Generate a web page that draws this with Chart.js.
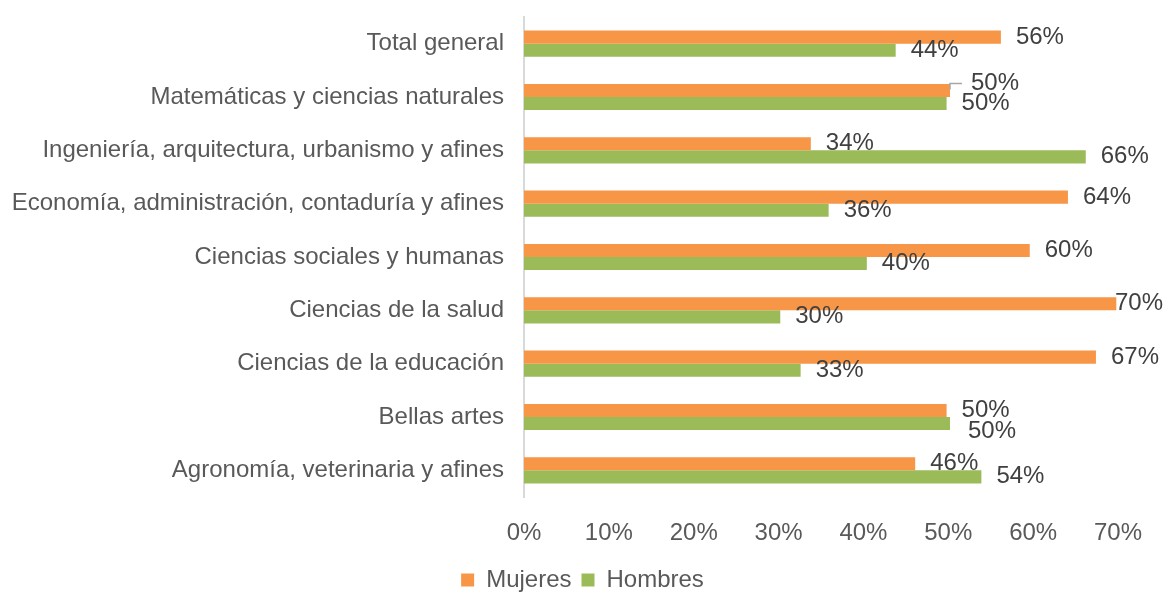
<!DOCTYPE html>
<html>
<head>
<meta charset="utf-8">
<script src="https://cdn.jsdelivr.net/npm/chart.js@4/dist/chart.umd.min.js"></script>
<style>
  html, body { margin: 0; padding: 0; background: #fff; }
  #wrap { width: 1165px; height: 592px; }
</style>
</head>
<body>
<div id="wrap"><canvas id="myBarChart"></canvas></div>
<script>
var categories = [
  "Total general",
  "Matemáticas y ciencias naturales",
  "Ingeniería, arquitectura, urbanismo y afines",
  "Economía, administración, contaduría y afines",
  "Ciencias sociales y humanas",
  "Ciencias de la salud",
  "Ciencias de la educación",
  "Bellas artes",
  "Agronomía, veterinaria y afines"
];
var mujeres = [56.2, 50.2, 33.8, 64.1, 59.6, 69.8, 67.4, 49.8, 46.1];
var hombres = [43.8, 49.8, 66.2, 35.9, 40.4, 30.2, 32.6, 50.2, 53.9];
var seriesNames = ["Mujeres", "Hombres"];
var xMax = 70;
var xStep = 10;

var FONT = "'Liberation Sans', Arial, sans-serif";
var TXT = "#595959";

// value labels next to bar ends, nudged apart when they overlap
var barLabels = {
  id: "barLabels",
  afterDatasetsDraw: function(chart) {
    var ctx = chart.ctx;
    ctx.save();
    ctx.font = "24px " + FONT;
    ctx.fillStyle = "#404040";
    ctx.textBaseline = "middle";
    ctx.textAlign = "left";
    var m0 = chart.getDatasetMeta(0), m1 = chart.getDatasetMeta(1);
    for (var i = 0; i < categories.length; i++) {
      var items = [m0.data[i], m1.data[i]].map(function(el, d) {
        var v = chart.data.datasets[d].data[i];
        var t = Math.round(v) + "%";
        var w = ctx.measureText(t).width;
        var x = Math.min(el.x + 15, chart.width - w - 2);
        return { el: el, v: v, t: t, w: w, x: x, y: el.y, lead: false };
      });
      var a = items[0], b = items[1];
      if (Math.abs(a.x - b.x) < Math.max(a.w, b.w) && Math.abs(a.y - b.y) < 20) {
        if (a.v > b.v) { a.y -= 7; a.x += 6; a.lead = true; }
        else { b.y += 8; b.x += 3; }
      }
      items.forEach(function(it) {
        if (it.lead) {
          ctx.strokeStyle = "#a6a6a6";
          ctx.lineWidth = 1.5;
          ctx.beginPath();
          ctx.moveTo(it.el.x, it.el.y - 1);
          ctx.lineTo(it.el.x, it.y);
          ctx.lineTo(it.x - 9, it.y);
          ctx.stroke();
        }
        ctx.fillText(it.t, it.x, it.y);
      });
    }
    ctx.restore();
  }
};

var ctx = document.getElementById("myBarChart").getContext("2d");

var config = {
  type: "bar",
  data: {
    labels: categories,
    datasets: [{
      label: seriesNames[0],
      data: mujeres,
      backgroundColor: "#F79646",
      categoryPercentage: 0.49,
      barPercentage: 1
    }, {
      label: seriesNames[1],
      data: hombres,
      backgroundColor: "#9BBB59",
      categoryPercentage: 0.49,
      barPercentage: 1
    }]
  },
  options: {
    indexAxis: "y",
    responsive: true,
    maintainAspectRatio: false,
    animation: false,
    layout: {
      padding: { top: 17, right: 0, bottom: -10, left: 0 }
    },
    scales: {
      x: {
        min: 0,
        max: xMax,
        grid: { display: false, drawTicks: false },
        border: { display: false },
        ticks: {
          stepSize: xStep,
          padding: 22,
          color: TXT,
          font: { family: FONT, size: 24 },
          callback: function(v) { return v + "%"; }
        },
        afterFit: function(scale) {
          scale.height = 61;
          scale.paddingRight = 47;
        }
      },
      y: {
        grid: { display: false, drawTicks: false },
        border: { display: true, color: "#d9d9d9", width: 2 },
        ticks: {
          padding: 20,
          color: TXT,
          font: { family: FONT, size: 24 }
        },
        afterFit: function(scale) {
          scale.width = 524;
          scale.paddingTop = 0;
          scale.paddingBottom = 0;
        }
      }
    },
    plugins: {
      legend: {
        position: "bottom",
        labels: {
          boxWidth: 13,
          boxHeight: 13,
          padding: 10,
          color: TXT,
          font: { family: FONT, size: 24 }
        }
      },
      tooltip: { enabled: false }
    }
  },
  plugins: [barLabels]
};

var barChart = new Chart(ctx, config);
</script>
</body>
</html>
